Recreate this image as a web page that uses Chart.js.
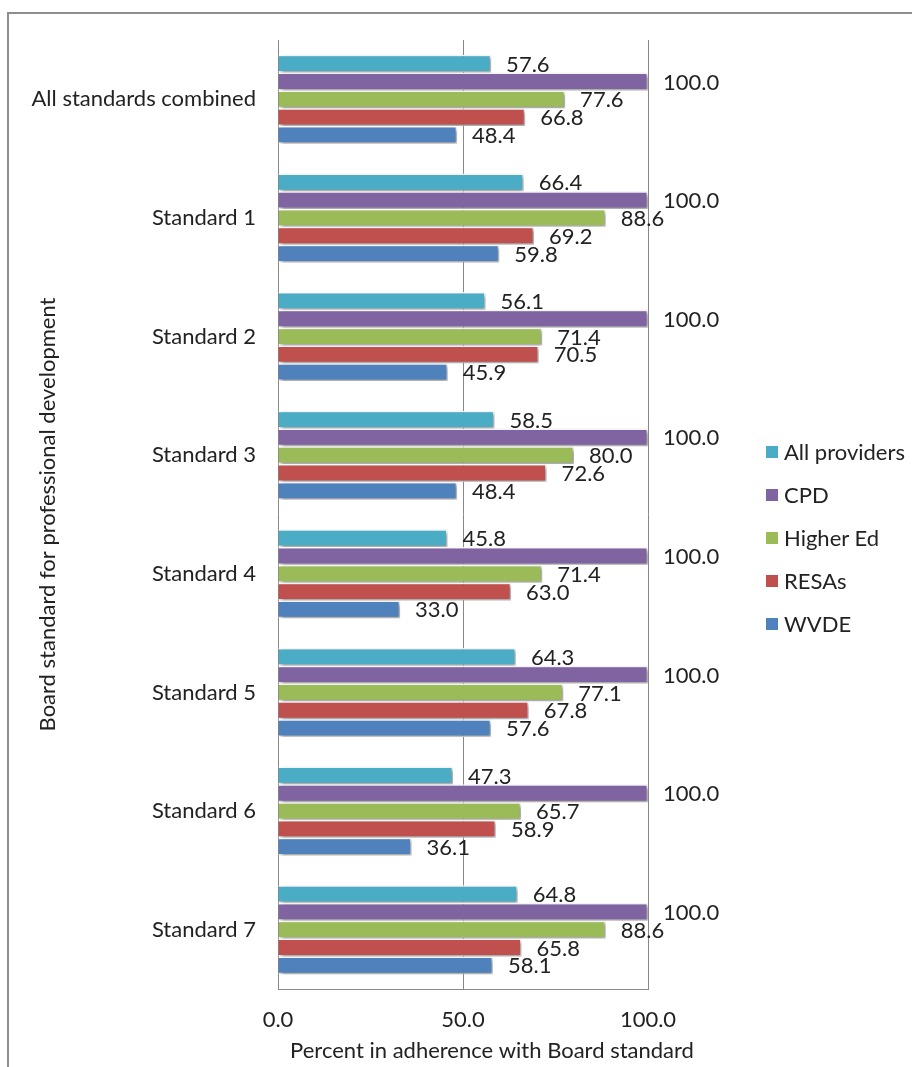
<!DOCTYPE html>
<html>
<head>
<meta charset="utf-8">
<script src="https://cdn.jsdelivr.net/npm/chart.js@4/dist/chart.umd.min.js"></script>
<style>
  html, body { margin: 0; padding: 0; background: #fff; }
  body { width: 912px; height: 1067px; position: relative; overflow: hidden; font-family: Lato, "Open Sans", sans-serif; }
  #frame { position: absolute; left: 7px; top: 12px; right: -10px; bottom: -10px;
           border-top: 2px solid #8e8e8e; border-left: 2px solid #8e8e8e; }
  #wrap { position: absolute; left: 0; top: 0; width: 912px; height: 1067px; }
  #legend { position: absolute; left: 766px; top: 430px; }
  .item { display: flex; align-items: center; height: 43px; font-size: 22px; color: #222; white-space: nowrap; }
  .sw { width: 12px; height: 12px; margin-right: 6px; flex: none; }
</style>
</head>
<body>
<div id="frame"></div>
<div id="wrap"><canvas id="c" width="912" height="1067"></canvas></div>
<div id="legend"></div>
<script>
// Board standards (rows, top to bottom)
const categories = ['All standards combined', 'Standard 1', 'Standard 2', 'Standard 3',
                    'Standard 4', 'Standard 5', 'Standard 6', 'Standard 7'];

// Percent in adherence, by provider
const allProviders = [57.6, 66.4, 56.1, 58.5, 45.8, 64.3, 47.3, 64.8];
const cpd          = [100.0, 100.0, 100.0, 100.0, 100.0, 100.0, 100.0, 100.0];
const higherEd     = [77.6, 88.6, 71.4, 80.0, 71.4, 77.1, 65.7, 88.6];
const resas        = [66.8, 69.2, 70.5, 72.6, 63.0, 67.8, 58.9, 65.8];
const wvde         = [48.4, 59.8, 45.9, 48.4, 33.0, 57.6, 36.1, 58.1];

const seriesNames  = ['All providers', 'CPD', 'Higher Ed', 'RESAs', 'WVDE'];
const seriesValues = [allProviders, cpd, higherEd, resas, wvde];
const seriesColors = ['#4BACC6', '#8064A2', '#9BBB59', '#C0504D', '#4F81BD'];

const xTickValues = [0, 50, 100];
const xTickLabels = ['0.0', '50.0', '100.0'];

const FONT = 'Lato, "Open Sans", sans-serif';
const TEXT = '#222222';
const GRID = '#888888';

// Soft drop shadow under each bar
const barShadow = {
  id: 'barShadow',
  beforeDatasetDraw(chart) {
    const c = chart.ctx;
    c.save();
    c.shadowColor = 'rgba(0,0,0,0.42)';
    c.shadowBlur = 4;
    c.shadowOffsetX = 2;
    c.shadowOffsetY = 2;
  },
  afterDatasetDraw(chart) { chart.ctx.restore(); }
};

// Value label just past the end of each bar
const valueLabels = {
  id: 'valueLabels',
  afterDatasetsDraw(chart) {
    const c = chart.ctx;
    c.save();
    c.font = '22px ' + FONT;
    c.fillStyle = TEXT;
    c.textAlign = 'left';
    c.textBaseline = 'middle';
    chart.data.datasets.forEach((ds, i) => {
      chart.getDatasetMeta(i).data.forEach((bar, j) => {
        c.fillText(ds.data[j].toFixed(1), bar.x + 15, bar.y + 1);
      });
    });
    c.restore();
  }
};

// Horizontal axis title
const xAxisTitle = {
  id: 'xAxisTitle',
  afterDraw(chart) {
    const c = chart.ctx;
    c.save();
    c.font = '22px ' + FONT;
    c.fillStyle = TEXT;
    c.textAlign = 'center';
    c.textBaseline = 'middle';
    c.fillText('Percent in adherence with Board standard', 492, 1051);
    c.restore();
  }
};

new Chart(document.getElementById('c'), {
  type: 'bar',
  data: {
    labels: categories,
    datasets: seriesNames.map((name, i) => ({
      label: name,
      data: seriesValues[i],
      backgroundColor: seriesColors[i],
      borderColor: '#ffffff',
      borderWidth: 1.5,
      barPercentage: 1.0,
      categoryPercentage: 0.75,
      clip: false
    }))
  },
  options: {
    indexAxis: 'y',
    responsive: false,
    animation: false,
    layout: { padding: { top: 40, right: 264, left: 0, bottom: 0 } },
    plugins: { legend: { display: false }, tooltip: { enabled: false } },
    scales: {
      x: {
        min: 0, max: 100,
        afterBuildTicks: s => { s.ticks = xTickValues.map(v => ({ value: v })); },
        afterFit: s => { s.height = 78; },
        grid: { color: GRID, lineWidth: 1, drawTicks: false },
        border: { display: true, color: GRID, width: 1 },
        ticks: {
          padding: 18,
          color: TEXT,
          font: { family: FONT, size: 22 },
          callback: v => xTickLabels[xTickValues.indexOf(v)]
        }
      },
      y: {
        afterFit: s => { s.width = 278; },
        grid: { display: false, drawTicks: false },
        border: { display: false },
        ticks: { padding: 22, color: TEXT, font: { family: FONT, size: 22 } },
        title: {
          display: true,
          text: 'Board standard for professional development',
          color: TEXT,
          font: { family: FONT, size: 22 },
          padding: { top: 35, bottom: 0 }
        }
      }
    }
  },
  plugins: [barShadow, valueLabels, xAxisTitle]
});

// Legend entries built from the series
const legend = document.getElementById('legend');
seriesNames.forEach((name, i) => {
  const row = document.createElement('div');
  row.className = 'item';
  const sw = document.createElement('span');
  sw.className = 'sw';
  sw.style.background = seriesColors[i];
  const label = document.createElement('span');
  label.textContent = name;
  row.appendChild(sw);
  row.appendChild(label);
  legend.appendChild(row);
});
</script>
</body>
</html>
